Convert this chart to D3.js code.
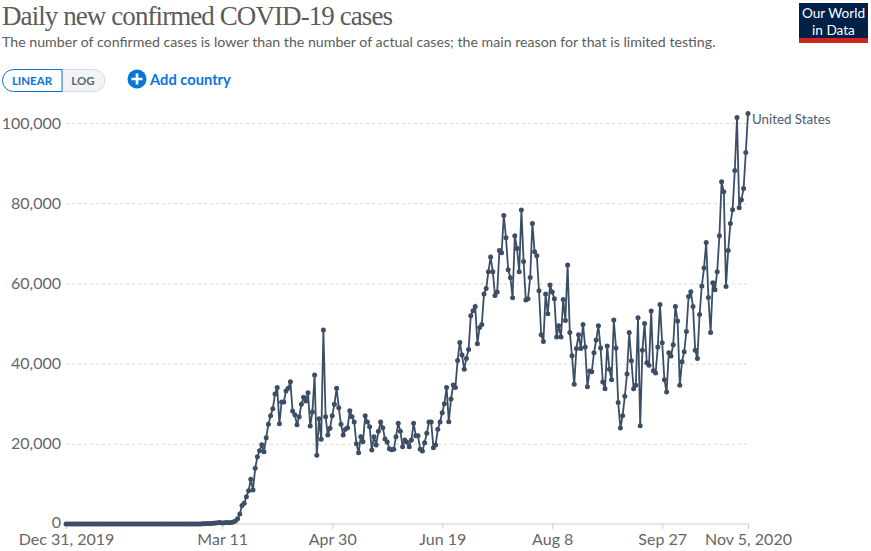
<!DOCTYPE html>
<html>
<head>
<meta charset="utf-8">
<script src="https://cdn.jsdelivr.net/npm/d3@7"></script>
<style>
  html, body { margin: 0; padding: 0; background: #fff; }
  svg { display: block; }
  svg text { font-family: Lato, sans-serif; }
  .title { font-family: "Liberation Serif", serif !important; font-size: 27px; fill: #5b5b5b; }
  .subtitle { font-size: 14.2px; fill: #5b5b5b; }
  .axis text { font-size: 16px; fill: #666; }
  .axis .domain { display: none; }
  .y-axis line { stroke: #d6d6d6; stroke-dasharray: 3,3; }
  .x-axis line { stroke: #ccc; }
</style>
</head>
<body>
<script>
const startDate = new Date(2019, 11, 31);

// one value per day from Dec 31, 2019
const flatStart = [
  0,0,0,0,0,0,0,0,0,0,0,0,0,0,0,0,0,0,0,0,0,1,0,0,1,1,0,0,0,0,0,1,0,0,0,0,0,0,0,0,0,
  0,0,0,0,1,0,0,0,0,0,0,0,18,0,6,1,6,3,20,14,22,34,74,105,95,121,200,271,287,351
];
const dailyCases = flatStart.slice(0, 71).concat([
  250,300,350,300,400,500,750,1330,2500,4600,5150,6800,8300,11150,8480,13880,16790,18280,19780,18040,
  21520,24850,27010,28750,32410,34070,24990,30420,30420,33160,33830,35490,28180,27260,24770,26760,29840,31580,30670,32750,
  24430,27920,37150,17120,26270,21110,48360,26760,22190,23850,27010,29840,33830,29010,24850,22190,23600,24020,28260,26760,
  25430,20030,17790,21770,20530,27010,25430,24270,18450,21770,19700,23100,25430,24020,21190,20450,18780,18530,18620,21770,
  25100,23100,19280,20950,20360,19280,20950,25100,22020,22020,18620,18200,20280,22600,25430,25430,19030,19700,23600,25430,
  27760,30000,34070,25510,31160,34650,34070,40800,45290,42130,38560,41300,43540,51940,53180,54260,44960,49030,49780,57340,
  58750,62910,66560,62910,57010,57840,68220,67640,76950,71380,63410,61410,56420,71880,68720,62910,78280,65480,55840,56180,
  61490,74960,67890,66900,58170,47200,45540,57340,52440,59580,57840,56180,46620,49440,46620,56010,50770,64570,47780,41970,
  34820,43790,47200,43790,49780,44130,34240,38140,37980,42710,45870,49440,43880,35400,33740,44380,38560,35980,50860,43880,
  30330,23930,27010,31830,37400,47780,40720,33740,34570,51440,24510,43300,50030,40220,39560,53100,38230,37640,44130,54760,
  45210,35980,32910,42710,41880,44710,54260,50610,34570,40470,42960,48030,56760,57920,54260,43300,41300,52270,59330,63820,
  70220,56510,47780,60160,58420,62910,71880,85340,82850,59250,68220,74960,78360,88170,101380,78860,80860,83680,92660,102380
]);

const yTicks = [0, 20000, 40000, 60000, 80000, 100000];
const xTickDays = [0, 71, 121, 171, 221, 271, 310];
const xTickLabels = ["Dec 31, 2019", "Mar 11", "Apr 30", "Jun 19", "Aug 8", "Sep 27", "Nov 5, 2020"];
const seriesName = "United States";

const width = 871, height = 551;
const margin = { top: 123, right: 123, bottom: 27, left: 66 };

const svg = d3.select("body").append("svg")
    .attr("width", width)
    .attr("height", height);

const dayOf = i => d3.timeDay.offset(startDate, i);

const x = d3.scaleTime()
    .domain([dayOf(0), dayOf(310)])
    .range([margin.left, width - margin.right]);

const y = d3.scaleLinear()
    .domain([0, 100000])
    .range([height - margin.bottom, margin.top]);

// header
svg.append("text").attr("class", "title").attr("x", 2).attr("y", 25)
    .attr("textLength", 391).attr("lengthAdjust", "spacing")
    .text("Daily new confirmed COVID-19 cases");
svg.append("text").attr("class", "subtitle").attr("x", 2).attr("y", 47)
    .text("The number of confirmed cases is lower than the number of actual cases; the main reason for that is limited testing.");

// logo
svg.append("rect").attr("x", 799).attr("y", 3).attr("width", 69).attr("height", 40).attr("fill", "#002147");
svg.append("rect").attr("x", 799).attr("y", 38).attr("width", 69).attr("height", 5).attr("fill", "#ce261e");
svg.selectAll(".logo").data(["Our World", "in Data"]).enter().append("text")
    .attr("class", "logo")
    .attr("x", 833.5)
    .attr("y", (d, i) => 18 + i * 16.5)
    .attr("text-anchor", "middle")
    .attr("font-size", 13.6)
    .attr("fill", "#fff")
    .text(d => d);

// linear / log toggle
svg.append("path")
    .attr("d", "M62,69.5 H94 A11,11 0 0 1 94,91.5 H62 Z")
    .attr("fill", "#f2f3f4").attr("stroke", "#d8dadd");
svg.append("path")
    .attr("d", "M62,69.5 H13.5 A11,11 0 0 0 13.5,91.5 H62 Z")
    .attr("fill", "#fff").attr("stroke", "#0a74da");
svg.append("text").attr("x", 32).attr("y", 85).attr("text-anchor", "middle")
    .attr("font-size", 11.5).attr("font-weight", 700).attr("fill", "#0a74da").text("LINEAR");
svg.append("text").attr("x", 83).attr("y", 85).attr("text-anchor", "middle")
    .attr("font-size", 11.5).attr("font-weight", 700).attr("fill", "#5a6675").text("LOG");

// add country
svg.append("circle").attr("cx", 137).attr("cy", 79).attr("r", 9.5).attr("fill", "#0a74da");
svg.append("path").attr("d", "M137,73.5 V84.5 M131.5,79 H142.5")
    .attr("stroke", "#fff").attr("stroke-width", 2.6);
svg.append("text").attr("x", 150).attr("y", 85)
    .attr("font-size", 14.7).attr("font-weight", 700).attr("fill", "#0a74da").text("Add country");

// axes
svg.append("g")
    .attr("class", "axis y-axis")
    .attr("transform", `translate(${margin.left},0)`)
    .call(d3.axisLeft(y)
      .tickValues(yTicks.slice(1))
      .tickSize(-(width - margin.left - margin.right))
      .tickPadding(5)
      .tickFormat(d3.format(",")));

svg.append("text")
    .attr("x", 61).attr("y", y(0) + 4)
    .attr("text-anchor", "end").attr("font-size", 16).attr("fill", "#666")
    .text(d3.format(",")(yTicks[0]));

svg.append("g")
    .attr("class", "axis x-axis")
    .attr("transform", `translate(0,${y(0)})`)
    .call(d3.axisBottom(x)
      .tickValues(xTickDays.map(dayOf))
      .tickSize(5)
      .tickPadding(5)
      .tickFormat((d, i) => xTickLabels[i]));

svg.append("line")
    .attr("x1", margin.left).attr("x2", width - margin.right)
    .attr("y1", y(0)).attr("y2", y(0))
    .attr("stroke", "#ccc");

// series
const line = d3.line()
    .x((d, i) => x(dayOf(i)))
    .y(d => y(d));

svg.append("path")
    .datum(dailyCases)
    .attr("fill", "none")
    .attr("stroke", "#3c4e66")
    .attr("stroke-width", 1.8)
    .attr("d", line);

svg.selectAll(".dot")
    .data(dailyCases)
    .enter().append("circle")
    .attr("class", "dot")
    .attr("cx", (d, i) => x(dayOf(i)))
    .attr("cy", d => y(d))
    .attr("r", 2.5)
    .attr("fill", "#3c4e66");

svg.append("text")
    .attr("x", 752).attr("y", 124)
    .attr("font-size", 13.3).attr("fill", "#4a5a70")
    .text(seriesName);
</script>
</body>
</html>
